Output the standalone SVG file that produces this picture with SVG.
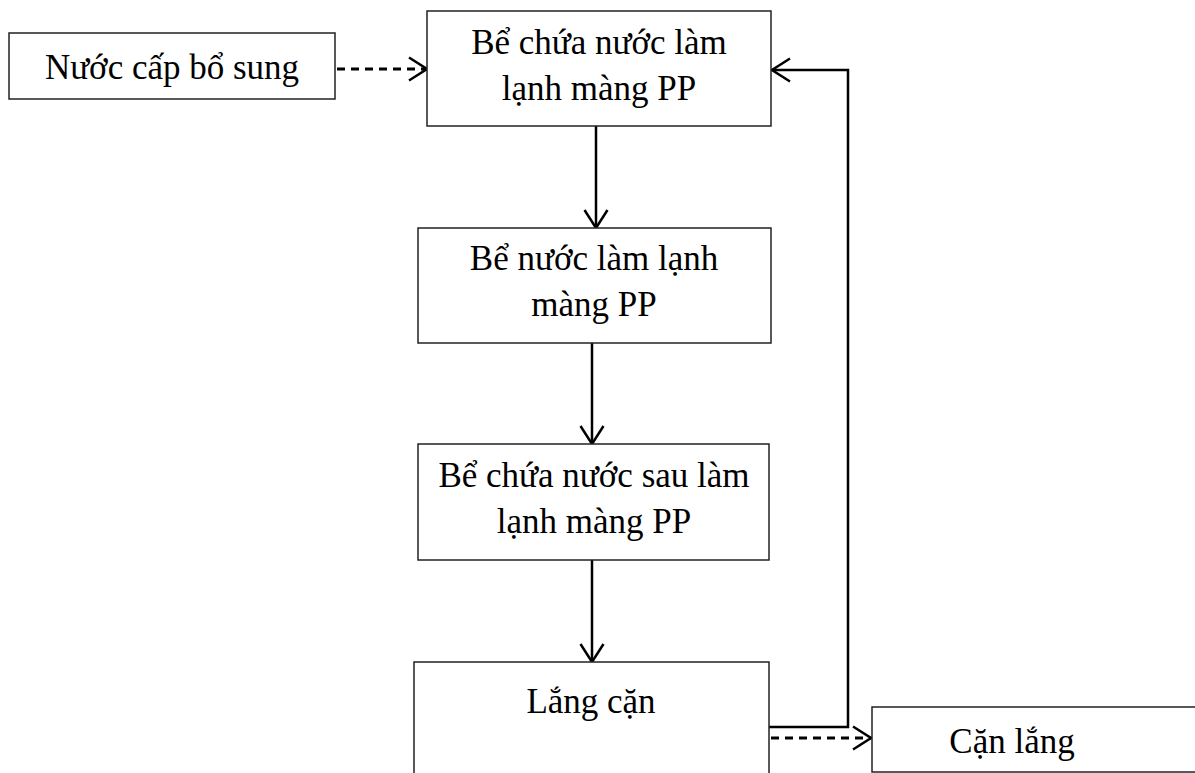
<svg xmlns="http://www.w3.org/2000/svg" width="1195" height="773" viewBox="0 0 1195 773">
  <style>
    .box { fill: #ffffff; stroke: #222222; stroke-width: 1.5; }
    .lbl { font-family: "Liberation Serif", "Times New Roman", serif; font-size: 35px; fill: #000000; text-anchor: middle; }
    .flow { fill: none; stroke: #000000; stroke-width: 2.5; }
    .dash { stroke-width: 3; stroke-dasharray: 8 6; }
  </style>
  <defs>
    <marker id="arrow" markerUnits="userSpaceOnUse" viewBox="0 0 22 28" markerWidth="22" markerHeight="28" refX="20" refY="14" orient="auto">
      <path d="M2,2.5 L20,14 L2,25.5" fill="none" stroke="#000000" stroke-width="2.5"/>
    </marker>
  </defs>
  <rect width="1195" height="773" fill="#ffffff"/>

  <g id="connectors">
    <line class="flow dash" x1="337" y1="69" x2="427" y2="69" marker-end="url(#arrow)"/>
    <line class="flow" x1="596" y1="126" x2="596" y2="228" marker-end="url(#arrow)"/>
    <line class="flow" x1="592" y1="343" x2="592" y2="444" marker-end="url(#arrow)"/>
    <line class="flow" x1="592" y1="560" x2="592" y2="662" marker-end="url(#arrow)"/>
    <polyline class="flow" points="769,727 848,727 848,70 772,70" marker-end="url(#arrow)"/>
    <line class="flow dash" x1="771" y1="738" x2="871" y2="738" marker-end="url(#arrow)"/>
  </g>

  <g id="nuoc-cap-bo-sung">
    <rect class="box" x="9" y="33" width="326" height="66"/>
    <text class="lbl" x="172" y="79">Nước cấp bổ sung</text>
  </g>

  <g id="be-chua-nuoc-lam-lanh">
    <rect class="box" x="427" y="11" width="344" height="115"/>
    <text class="lbl" x="599" y="54">Bể chứa nước làm</text>
    <text class="lbl" x="599" y="100">lạnh màng PP</text>
  </g>

  <g id="be-nuoc-lam-lanh">
    <rect class="box" x="418" y="228" width="353" height="115"/>
    <text class="lbl" x="594" y="270">Bể nước làm lạnh</text>
    <text class="lbl" x="594" y="316">màng PP</text>
  </g>

  <g id="be-chua-nuoc-sau-lam-lanh">
    <rect class="box" x="418" y="444" width="351" height="116"/>
    <text class="lbl" x="594" y="487">Bể chứa nước sau làm</text>
    <text class="lbl" x="594" y="533">lạnh màng PP</text>
  </g>

  <g id="lang-can">
    <rect class="box" x="414" y="662" width="355" height="130"/>
    <text class="lbl" x="591" y="713">Lắng cặn</text>
  </g>

  <g id="can-lang">
    <rect class="box" x="872" y="707" width="340" height="65"/>
    <text class="lbl" x="1012" y="753">Cặn lắng</text>
  </g>
</svg>
